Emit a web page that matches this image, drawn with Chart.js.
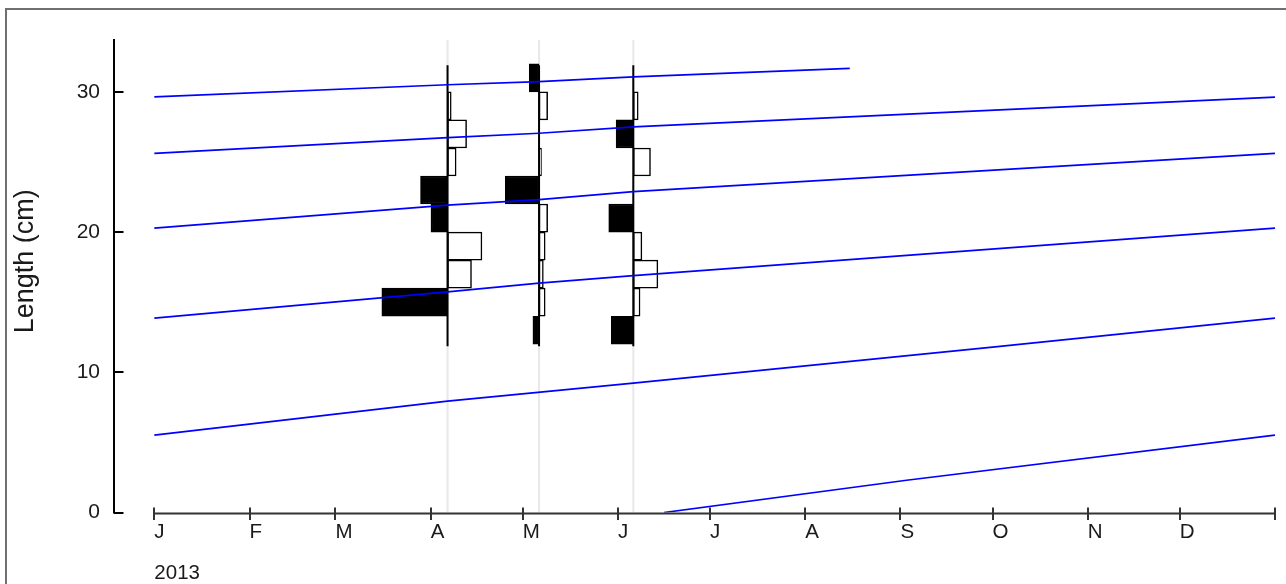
<!DOCTYPE html>
<html>
<head>
<meta charset="utf-8">
<script src="https://cdn.jsdelivr.net/npm/chart.js@4.4.0/dist/chart.umd.min.js"></script>
<style>
  html, body { margin: 0; padding: 0; background: #fff; overflow: hidden; }
  #frame { position: absolute; left: 5px; top: 8px; width: 1300px; height: 600px;
           border-left: 2px solid #707070; border-top: 2px solid #707070; }
  #chart { position: absolute; left: 0; top: 0; }
</style>
</head>
<body>
<div id="frame"></div>
<canvas id="chart" width="1286" height="584"></canvas>
<script>
const FONT = "'Liberation Sans', Arial, sans-serif";
const INK = "#1a1a1a";

// --- axes ---
const monthDays = [0, 31, 59, 90, 120, 151, 181, 212, 243, 273, 304, 334, 365]; // day of year 2013
const monthLabels = ["J", "F", "M", "A", "M", "J", "J", "A", "S", "O", "N", "D", ""];
const yearLabel = "2013";
const lengthTicks = [0, 10, 20, 30];

// --- length-frequency samples ---
const binMids = [13, 15, 17, 19, 21, 23, 25, 27, 29, 31];   // 2 cm classes
const sampleDays = [95.5, 125.3, 156];
const scoresApr = [0, -1.07, 0.39, 0.56, -0.27, -0.44, 0.14, 0.31, 0.06, 0];
const scoresMay = [-0.10, 0.10, 0.07, 0.10, 0.14, -0.55, 0.04, 0, 0.14, -0.16];
const scoresJun = [-0.36, 0.11, 0.40, 0.14, -0.40, 0, 0.28, -0.28, 0.08, 0];
const SCORE_DAYS = 20;          // width of one score unit, in days
const baseRange = [11.85, 31.9];

// --- growth curves [day, length cm] ---
const curve1 = [[0, 29.65], [95.5, 30.51], [125.3, 30.73], [156, 31.07], [226.5, 31.68]];
const curve2 = [[0, 25.62], [95.5, 26.74], [125.3, 27.05], [156, 27.51], [365, 29.62]];
const curve3 = [[0, 20.28], [95.5, 21.92], [125.3, 22.32], [156, 22.88], [365, 25.62]];
const curve4 = [[0, 13.86], [95.5, 15.74], [125.3, 16.36], [156, 16.89], [365, 20.28]];
const curve5 = [[0, 5.52], [95.5, 7.95], [156, 9.23], [273, 11.8], [365, 13.86]];
const curve6 = [[166, 0], [245, 2.3], [365, 5.52]];
const YMAX = 33.7;

const curveSets = [curve1, curve2, curve3, curve4, curve5, curve6].map(c => ({
  type: "line",
  data: c.map(([d, l]) => ({ x: d, y: l })),
  borderColor: "#0000ff", borderWidth: 1.7,
  pointRadius: 0, tension: 0, order: 0
}));

function histSet(day, scores) {
  const data = [], fills = [];
  scores.forEach((s, i) => {
    if (s === 0) return;
    data.push({ y: binMids[i], x: [day, day + s * SCORE_DAYS] });
    fills.push(s < 0 ? "#000" : "#fff");
  });
  return {
    type: "bar", indexAxis: "y", data,
    backgroundColor: fills, borderColor: "#000", borderWidth: 1.5,
    borderSkipped: false, grouped: false,
    barPercentage: 1, categoryPercentage: 1, order: 2
  };
}

const histSets = [scoresApr, scoresMay, scoresJun].map((s, i) => histSet(sampleDays[i], s));

const baseSets = sampleDays.map(d => ({
  type: "line", data: [{ x: d, y: baseRange[0] }, { x: d, y: baseRange[1] }],
  borderColor: "#000", borderWidth: 2, pointRadius: 0, order: 1
}));
const guideSets = sampleDays.map(d => ({
  type: "line", data: [{ x: d, y: 0 }, { x: d, y: YMAX }],
  borderColor: "#e8e8e8", borderWidth: 2, pointRadius: 0, order: 3
}));

// R-style axes: x line only over the year, inward y ticks
const axesPlugin = {
  id: "rAxes",
  afterDraw(chart) {
    const { ctx, scales: { x, y } } = chart;
    const yb = y.getPixelForValue(0) + 1;
    ctx.save();
    ctx.strokeStyle = "#333";
    ctx.lineWidth = 2;
    ctx.beginPath();
    ctx.moveTo(x.getPixelForValue(monthDays[0]), yb);
    ctx.lineTo(x.getPixelForValue(monthDays[monthDays.length - 1]), yb);
    monthDays.forEach(d => {
      const px = Math.round(x.getPixelForValue(d));
      ctx.moveTo(px, yb - 6);
      ctx.lineTo(px, yb + 6.5);
    });
    ctx.stroke();
    ctx.strokeStyle = "#000";
    ctx.beginPath();
    lengthTicks.forEach(v => {
      const py = Math.round(y.getPixelForValue(v));
      ctx.moveTo(x.left, py);
      ctx.lineTo(x.left + 10, py);
    });
    ctx.stroke();
    ctx.restore();
  }
};

new Chart(document.getElementById("chart"), {
  type: "line",
  data: { datasets: [...curveSets, ...baseSets, ...histSets, ...guideSets] },
  options: {
    responsive: false,
    animation: false,
    layout: { padding: { left: 6.4, right: 11, top: 40, bottom: 0 } },
    plugins: { legend: { display: false }, tooltip: { enabled: false } },
    scales: {
      x: {
        type: "linear", min: -13.3, max: 365, offset: false,
        afterBuildTicks: s => { s.ticks = monthDays.map(v => ({ value: v })); },
        afterFit: s => { s.height = 71.5; },
        grid: { display: false, drawTicks: false, offset: false },
        border: { display: false },
        ticks: {
          align: "start", padding: 10, autoSkip: false, maxRotation: 0,
          color: INK, font: { family: FONT, size: 20.5, lineHeight: 1.0 },
          callback: (v, i) => i === 0 ? [monthLabels[0], "", yearLabel] : monthLabels[i]
        }
      },
      y: {
        type: "linear", min: 0, max: YMAX, offset: false,
        afterBuildTicks: s => { s.ticks = lengthTicks.map(v => ({ value: v })); },
        afterFit: s => { s.width = 107.1; },
        grid: { display: false, drawTicks: false, offset: false },
        border: { display: true, color: "#000", width: 2 },
        ticks: { padding: 13.5, color: INK, font: { family: FONT, size: 21 } },
        title: {
          // leading spaces lift the label a little above the axis centre, as in the original
          display: true, text: "    Length (cm)", color: INK,
          font: { family: FONT, size: 27 }, padding: { top: 3, bottom: 35 }
        }
      }
    }
  },
  plugins: [axesPlugin]
});
</script>
</body>
</html>
